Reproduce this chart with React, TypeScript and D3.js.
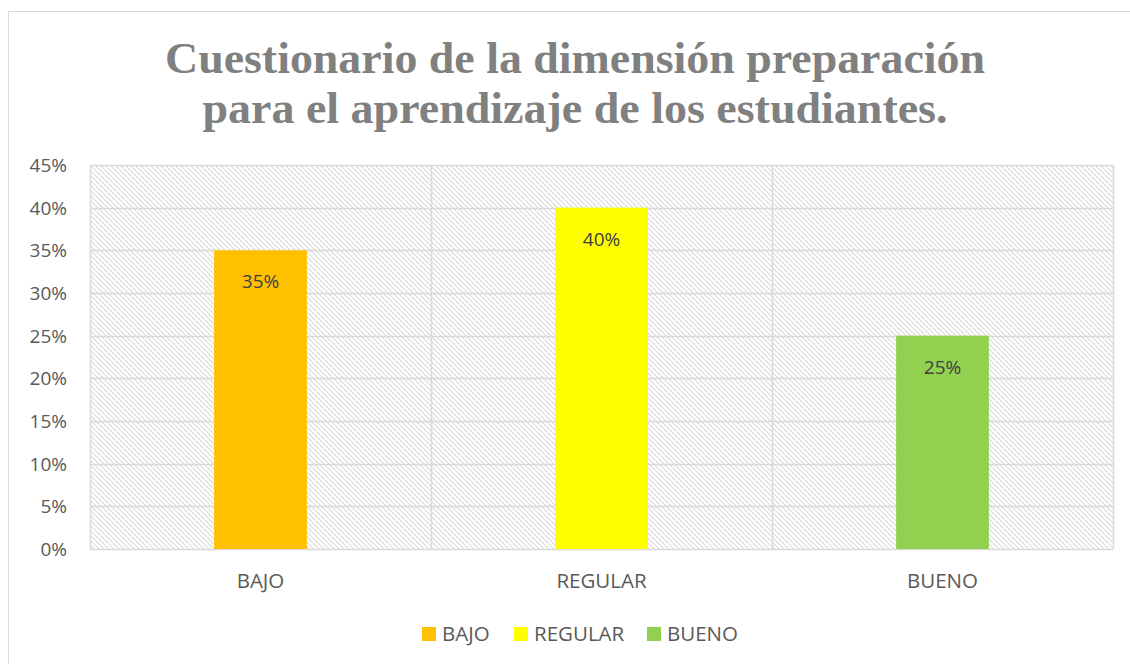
import React from 'react';
import * as d3 from 'd3';

const categories = ['BAJO', 'REGULAR', 'BUENO'];
const values = [0.35, 0.40, 0.25];
const colors = ['#FFC000', '#FFFF00', '#92D050'];
const yTicks = [0, 0.05, 0.1, 0.15, 0.2, 0.25, 0.3, 0.35, 0.4, 0.45];
const titleLines = ['Cuestionario de la dimensión preparación', 'para el aprendizaje de los estudiantes.'];

const W = 1130;
const H = 664;
const plot = { left: 90, right: 1113, top: 165, bottom: 549 };

const App: React.FC = () => {
  const x = d3.scaleBand<string>().domain(categories).range([plot.left, plot.right]).padding(0);
  const y = d3.scaleLinear().domain([0, 0.45]).range([plot.bottom, plot.top]);
  const barW = x.bandwidth() * 0.272;
  const pct = d3.format('.0%');
  const sans = '"Open Sans", "Noto Sans", sans-serif';
  const fs = 19;
  const fsLabel = 20.5;

  // legend layout
  const legendX = [422, 514, 647];
  const titleLen = [820, 745];

  return (
    <svg width={W} height={H} style={{ position: 'absolute', left: 0, top: 0 }}>
      <defs>
        <pattern id="hatch" width="5" height="5" patternUnits="userSpaceOnUse">
          <rect width="5" height="5" fill="#ffffff" />
          <path d="M-1,-1 L6,6 M-1,4 L1,6 M4,-1 L6,1" stroke="#d9d9d9" strokeWidth="1.1" />
        </pattern>
      </defs>
      <rect x={0} y={0} width={W} height={H} fill="#fff" />
      <rect x={8.5} y={11.5} width={W + 20} height={H + 20} fill="#fff" stroke="#d9d9d9" />

      {titleLines.map((t, i) => (
        <text key={i} x={575} y={73 + i * 50} textAnchor="middle" fill="#808080"
          fontFamily='"Liberation Serif", serif' fontWeight="bold" fontSize={44}
          textLength={titleLen[i]} lengthAdjust="spacingAndGlyphs">{t}</text>
      ))}

      <rect x={plot.left} y={plot.top} width={plot.right - plot.left} height={plot.bottom - plot.top}
        fill="url(#hatch)" />
      {yTicks.map(t => (
        <line key={t} x1={plot.left} x2={plot.right} y1={Math.round(y(t)) + 0.5} y2={Math.round(y(t)) + 0.5}
          stroke="#d9d9d9" strokeWidth={1.5} />
      ))}
      {[plot.left, x('REGULAR')!, x('BUENO')!, plot.right].map((v, i) => (
        <line key={i} x1={Math.round(v) + 0.5} x2={Math.round(v) + 0.5} y1={plot.top} y2={plot.bottom}
          stroke="#d9d9d9" strokeWidth={1.5} />
      ))}

      {yTicks.map(t => (
        <text key={t} x={67} y={y(t) + 7} textAnchor="end" fill="#595959" fontFamily={sans} fontSize={fs}>{pct(t)}</text>
      ))}

      {categories.map((c, i) => {
        const cx = x(c)! + x.bandwidth() / 2;
        return (
          <g key={c}>
            <rect x={cx - barW / 2} y={y(values[i])} width={barW} height={plot.bottom - y(values[i])} fill={colors[i]} />
            <text x={cx} y={y(values[i]) + 38} textAnchor="middle" fill="#404040" fontFamily={sans} fontSize={fs}>{pct(values[i])}</text>
            <text x={cx} y={588} textAnchor="middle" fill="#595959" fontFamily={sans} fontSize={fsLabel}>{c}</text>
          </g>
        );
      })}

      {categories.map((c, i) => (
        <g key={c}>
          <rect x={legendX[i]} y={627} width={14} height={14} fill={colors[i]} />
          <text x={legendX[i] + 20} y={641} fill="#595959" fontFamily={sans} fontSize={fsLabel}>{c}</text>
        </g>
      ))}
    </svg>
  );
};

export default App;
